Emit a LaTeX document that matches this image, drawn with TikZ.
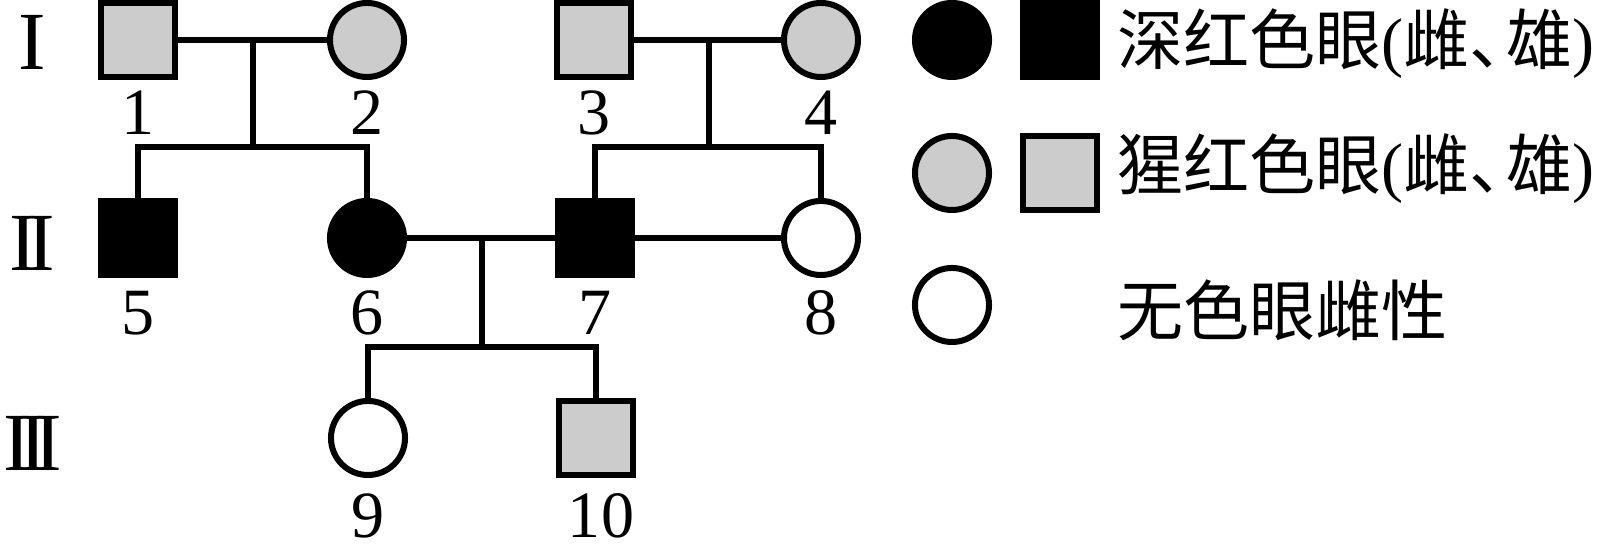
\documentclass[tikz,border=0pt]{standalone}
\usepackage{fontspec}
\setmainfont{Liberation Serif}
\newfontfamily\cjk{Noto Sans CJK SC}
\definecolor{carrier}{RGB}{204,204,204}
\begin{document}
\begin{tikzpicture}[x=0.01cm,y=-0.01cm,line width=0.06cm,
  sq/.style={draw,rectangle,minimum size=0.74cm,inner sep=0pt},
  ci/.style={draw,circle,minimum size=0.74cm,inner sep=0pt},
  aff/.style={fill=black},
  car/.style={fill=carrier},
  num/.style={font=\fontsize{18.8}{20}\selectfont,anchor=base,inner sep=0pt},
  gen/.style={font=\fontsize{23.5}{25}\selectfont,inner sep=0pt},
  leg/.style={font=\fontsize{18.8}{20}\selectfont\cjk,anchor=base west,inner sep=0pt}]
\useasboundingbox (0,0) rectangle (1605,559);
% generation labels
\node[gen] (g1) at (32,42) {I};
\node[gen] (g2) at (32,243) {I\kern-0.11em I};
\node[gen] (g3) at (33,443) {I\kern-0.145em I\kern-0.145em I};
% individuals
\node[sq,car] (p1) at (138,40) {};
\node[ci,car] (p2) at (367,40) {};
\node[sq,car] (p3) at (594,40) {};
\node[ci,car] (p4) at (821,40) {};
\node[sq,aff] (p5) at (138,238) {};
\node[ci,aff] (p6) at (367,238) {};
\node[sq,aff] (p7) at (595,238) {};
\node[ci] (p8) at (821,238) {};
\node[ci] (p9) at (368,438) {};
\node[sq,car] (p10) at (596,438) {};
% numbers
\node[num] (n1) at (138,135) {1};
\node[num] (n2) at (367,135) {2};
\node[num] (n3) at (594,135) {3};
\node[num] (n4) at (821,135) {4};
\node[num] (n5) at (138,335) {5};
\node[num] (n6) at (367,335) {6};
\node[num] (n7) at (595,335) {7};
\node[num] (n8) at (821,335) {8};
\node[num] (n9) at (368,538) {9};
\node[num] (n10) at (601,538) {10};
% family lines
\coordinate (m12) at (253,40); \coordinate (s12) at (253,147);
\coordinate (m34) at (709,40); \coordinate (s34) at (709,147);
\coordinate (m67) at (482,238); \coordinate (s67) at (482,347);
\draw (p1.east) -- (p2.west);
\draw (m12) -- (s12);
\draw (p5.north) |- (s12) -| (p6.north);
\draw (p3.east) -- (p4.west);
\draw (m34) -- (s34);
\draw (p7.north) |- (s34) -| (p8.north);
\draw (p6.east) -- (p7.west);
\draw (p7.east) -- (p8.west);
\draw (m67) -- (s67);
\draw (p9.north) |- (s67) -| (p10.north);
% legend
\node[ci,aff] (lc1) at (952,40) {};
\node[sq,aff] (ls1) at (1060,40) {};
\node[ci,car] (lc2) at (952,173) {};
\node[sq,car] (ls2) at (1060,173) {};
\node[ci] (lc3) at (952,305) {};
\node[leg] (t1) at (1114,65) {深红色眼{\rmfamily(}雌、\kern-0.45em 雄{\rmfamily)}};
\node[leg] (t2) at (1114,190) {猩红色眼{\rmfamily(}雌、\kern-0.45em 雄{\rmfamily)}};
\node[leg] (t3) at (1114,336) {无色眼雌性};
\end{tikzpicture}
\end{document}
